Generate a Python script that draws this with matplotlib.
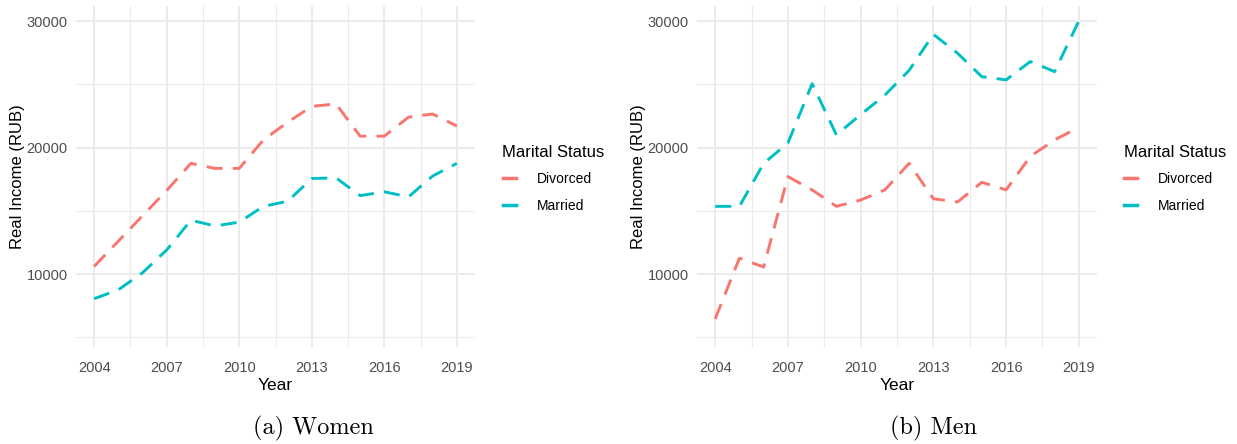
import matplotlib
matplotlib.use("Agg")
import matplotlib.pyplot as plt
from matplotlib.lines import Line2D

years = list(range(2004, 2020))
women_divorced = [10600, 12600, 14600, 16600, 18750, 18350, 18350, 20600, 22000, 23250, 23450, 20900, 20900, 22400, 22650, 21700]
women_married = [8050, 8750, 10100, 11900, 14250, 13800, 14100, 15350, 15750, 17550, 17600, 16200, 16500, 16100, 17750, 18750]
men_divorced = [6450, 11250, 10550, 17700, 16650, 15350, 15850, 16650, 18750, 15950, 15700, 17250, 16650, 19300, 20600, 21600]
men_married = [15350, 15350, 18750, 20350, 25050, 21000, 22600, 24150, 26100, 28950, 27450, 25600, 25350, 26800, 26000, 30000]

series_names = ["Divorced", "Married"]
colors = {"Divorced": "#F8766D", "Married": "#00BFC4"}
xticks = [2004, 2007, 2010, 2013, 2016, 2019]
yticks = [10000, 20000, 30000]
captions = ["(a) Women", "(b) Men"]

plt.rcParams['font.family'] = ['Liberation Sans', 'DejaVu Sans']

fig = plt.figure(figsize=(12.37, 4.44), dpi=100)
W, H = 1237, 444

panels = [
    (76, 475, {"Divorced": women_divorced, "Married": women_married}, 490, 313),
    (697, 1097, {"Divorced": men_divorced, "Married": men_married}, 1111, 934),
]
top, bottom = 6, 347

for i, (x0, x1, data, legx, capx) in enumerate(panels):
    ax = fig.add_axes([x0 / W, 1 - bottom / H, (x1 - x0) / W, (bottom - top) / H])
    for name in series_names:
        ax.plot(years, data[name], color=colors[name], lw=2.1, linestyle=(0, (5.5, 3.5)),
                solid_capstyle='butt', dash_capstyle='butt')
    ax.set_xlim(2003.25, 2019.75)
    ax.set_ylim(4230, 31190)
    ax.set_xticks(xticks)
    ax.set_yticks(yticks)
    ax.set_xticks([2005.5, 2008.5, 2011.5, 2014.5, 2017.5], minor=True)
    ax.set_yticks([5000, 15000, 25000], minor=True)
    ax.grid(True, which='major', color='#EBEBEB', lw=1.4)
    ax.grid(True, which='minor', color='#EBEBEB', lw=0.8)
    ax.set_axisbelow(True)
    for s in ax.spines.values():
        s.set_visible(False)
    ax.tick_params(which='both', length=0, labelsize=10.5, labelcolor='#4D4D4D')
    ax.tick_params(axis='x', pad=10)
    ax.tick_params(axis='y', pad=6)
    ax.set_xlabel("Year", fontsize=12.5, labelpad=2)
    ax.set_ylabel("Real Income (RUB)", fontsize=12, labelpad=1)

    handles = [Line2D([0], [0], color=colors[n], lw=2.5) for n in series_names]
    leg = fig.legend(handles, series_names, title="Marital Status", loc='upper left',
                     bbox_to_anchor=(legx / W, 1 - 132 / H), frameon=False,
                     fontsize=10, title_fontsize=12, handlelength=1.0, labelspacing=0.9,
                     handletextpad=1.45)
    leg._legend_box.align = "left"

    fig.text(capx / W, 1 - 428 / H, captions[i], family=['cmr10', 'DejaVu Serif'],
             fontsize=17.5, ha='center', va='center')

fig.savefig("out.png", dpi=100)
